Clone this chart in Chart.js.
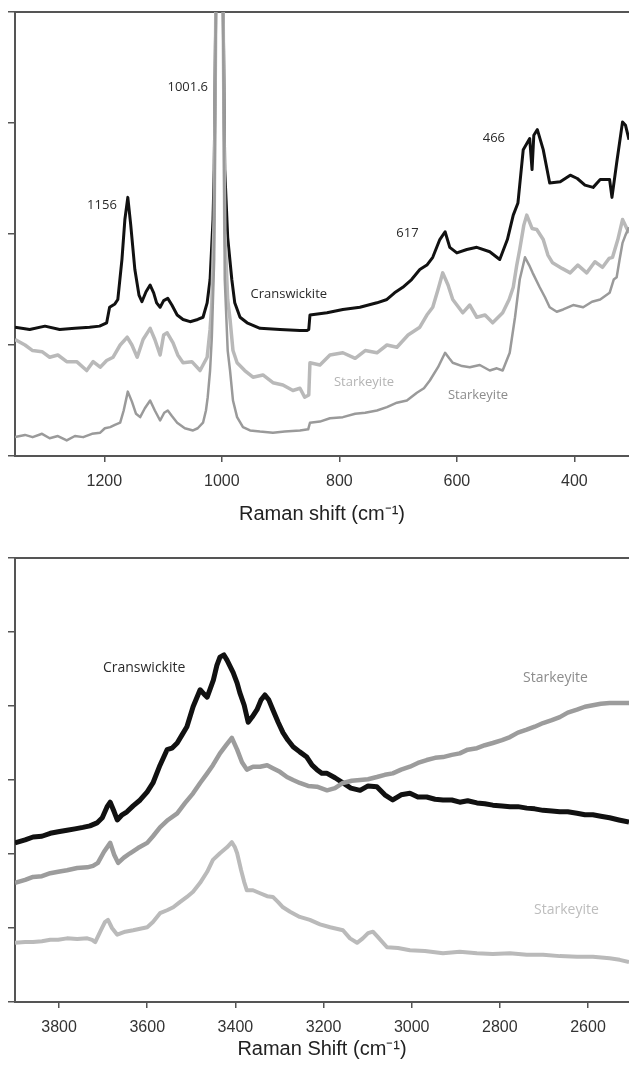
<!DOCTYPE html>
<html lang="en">
<head>
<meta charset="UTF-8">
<title>Raman spectra - cranswickite / starkeyite</title>
<script src="https://cdn.jsdelivr.net/npm/chart.js"></script>
<style>
    body { margin: 0; background: #fff; }
    canvas { display: block; }
</style>
</head>
<body>
<canvas id="lowChart" width="629" height="540"></canvas>
<canvas id="highChart" width="629" height="532"></canvas>
<script>
// ---- data: [Raman shift cm-1, intensity (arb.)] ----
// low wavenumber region (upper panel)
const lowTicks = [1200, 1000, 800, 600, 400];
const lowCran = [[1352,1.16],[1327,1.14],[1301,1.17],[1276,1.14],[1250,1.15],[1225,1.16],[1208,1.17],[1196,1.20],[1191,1.34],[1182,1.37],[1177,1.41],[1170,1.77],[1165,2.13],[1160,2.33],[1155,2.08],[1148,1.68],[1141,1.45],[1136,1.39],[1129,1.48],[1122,1.54],[1116,1.47],[1111,1.38],[1105,1.34],[1099,1.40],[1092,1.42],[1085,1.36],[1076,1.27],[1066,1.23],[1054,1.21],[1041,1.23],[1032,1.25],[1025,1.38],[1020,1.59],[1015,2.13],[1013,2.58],[1010,4.2],[1004,9],[998,4.2],[995,2.58],[990,1.97],[983,1.59],[978,1.38],[969,1.25],[957,1.20],[935,1.15],[901,1.14],[867,1.13],[855,1.13],[852,1.14],[850,1.27],[821,1.29],[794,1.32],[765,1.34],[736,1.38],[719,1.41],[706,1.47],[692,1.52],[677,1.59],[663,1.68],[651,1.72],[641,1.79],[629,1.95],[620,2.02],[612,1.88],[600,1.83],[583,1.86],[566,1.88],[544,1.84],[527,1.77],[514,1.95],[504,2.17],[496,2.28],[487,2.76],[476,2.86],[472,2.58],[469,2.89],[463,2.94],[453,2.76],[442,2.46],[424,2.47],[407,2.53],[395,2.50],[382,2.44],[368,2.42],[356,2.49],[340,2.49],[336,2.33],[328,2.64],[318,3.01],[313,2.98],[307,2.85]];
const lowStarkA = [[1352,1.05],[1335,1.00],[1322,0.95],[1306,0.94],[1293,0.89],[1279,0.91],[1264,0.85],[1247,0.85],[1230,0.77],[1219,0.85],[1207,0.80],[1196,0.86],[1185,0.89],[1173,1.00],[1161,1.07],[1153,1.00],[1144,0.89],[1134,1.05],[1122,1.15],[1114,1.05],[1105,0.91],[1099,1.09],[1093,1.11],[1083,1.02],[1075,0.91],[1066,0.84],[1051,0.85],[1037,0.77],[1025,0.89],[1020,1.14],[1017,1.38],[1013,2.13],[1010,4.2],[1004,8],[998,4.2],[995,2.04],[990,1.41],[986,1.23],[981,0.95],[974,0.84],[961,0.77],[947,0.71],[930,0.73],[913,0.66],[896,0.64],[879,0.59],[867,0.61],[859,0.53],[852,0.55],[850,0.84],[833,0.82],[816,0.91],[794,0.93],[773,0.88],[756,0.95],[736,0.93],[719,1.00],[702,0.98],[683,1.09],[663,1.16],[651,1.27],[641,1.34],[632,1.50],[624,1.65],[615,1.54],[607,1.41],[590,1.29],[578,1.36],[566,1.25],[552,1.27],[539,1.20],[522,1.29],[511,1.41],[504,1.52],[498,1.72],[493,1.86],[486,2.08],[481,2.17],[472,2.05],[464,2.04],[453,1.95],[445,1.81],[437,1.74],[421,1.69],[407,1.65],[394,1.72],[379,1.65],[365,1.75],[352,1.70],[341,1.78],[335,1.79],[326,1.95],[318,2.13],[307,2.01]];
const lowStarkB = [[1352,0.17],[1335,0.19],[1322,0.17],[1306,0.20],[1293,0.16],[1279,0.18],[1264,0.14],[1250,0.18],[1236,0.17],[1221,0.20],[1207,0.21],[1199,0.25],[1190,0.26],[1182,0.28],[1173,0.30],[1167,0.41],[1160,0.58],[1153,0.49],[1146,0.38],[1139,0.35],[1131,0.43],[1122,0.50],[1114,0.41],[1105,0.32],[1098,0.39],[1092,0.41],[1085,0.36],[1076,0.30],[1063,0.25],[1049,0.23],[1041,0.25],[1032,0.30],[1027,0.41],[1024,0.53],[1020,0.77],[1017,1.07],[1013,1.77],[1010,4.2],[1004,8],[998,4.2],[995,1.59],[990,0.95],[986,0.77],[981,0.50],[974,0.35],[964,0.26],[952,0.23],[935,0.22],[913,0.21],[893,0.22],[867,0.23],[853,0.24],[850,0.30],[833,0.31],[816,0.34],[794,0.35],[773,0.38],[756,0.39],[736,0.41],[719,0.44],[702,0.48],[685,0.50],[668,0.57],[656,0.61],[646,0.68],[632,0.80],[620,0.93],[613,0.88],[607,0.84],[591,0.81],[578,0.80],[561,0.82],[544,0.77],[532,0.79],[522,0.77],[510,0.93],[501,1.25],[493,1.59],[484,1.79],[477,1.72],[471,1.65],[459,1.52],[450,1.43],[442,1.34],[430,1.30],[419,1.32],[402,1.36],[385,1.34],[370,1.39],[356,1.41],[340,1.47],[333,1.59],[328,1.61],[323,1.77],[318,1.92],[313,1.99],[307,2.06]];
const lowLabels = [
    { text: '1001.6', x: 1058, y: 3.32, color: '#2a2a2a' },
    { text: '1156', x: 1204, y: 2.26, color: '#2a2a2a' },
    { text: 'Cranswickite', x: 886, y: 1.46, color: '#2a2a2a' },
    { text: '617', x: 684, y: 2.01, color: '#2a2a2a' },
    { text: '466', x: 537, y: 2.86, color: '#2a2a2a' },
    { text: 'Starkeyite', x: 758, y: 0.66, color: '#b4b4b4' },
    { text: 'Starkeyite', x: 564, y: 0.55, color: '#8c8c8c' }
];

// OH stretching region (lower panel)
const highTicks = [3800, 3600, 3400, 3200, 3000, 2800, 2600];
const highCran = [[3900,2.15],[3877,2.19],[3859,2.23],[3839,2.24],[3820,2.28],[3802,2.30],[3782,2.32],[3764,2.34],[3746,2.36],[3730,2.38],[3714,2.42],[3702,2.49],[3691,2.64],[3684,2.70],[3675,2.57],[3668,2.46],[3657,2.53],[3646,2.57],[3632,2.65],[3616,2.73],[3600,2.84],[3587,2.96],[3571,3.20],[3555,3.41],[3544,3.43],[3532,3.50],[3521,3.61],[3510,3.72],[3496,3.99],[3480,4.22],[3471,4.16],[3464,4.12],[3450,4.35],[3442,4.55],[3435,4.66],[3426,4.69],[3419,4.62],[3405,4.45],[3396,4.31],[3390,4.18],[3380,4.01],[3371,3.78],[3362,3.85],[3351,3.95],[3342,4.08],[3333,4.15],[3324,4.08],[3315,3.95],[3303,3.78],[3292,3.64],[3281,3.54],[3269,3.45],[3254,3.38],[3238,3.31],[3226,3.20],[3215,3.14],[3204,3.09],[3192,3.09],[3174,3.03],[3156,2.96],[3138,2.89],[3117,2.86],[3099,2.92],[3079,2.91],[3061,2.80],[3043,2.73],[3024,2.80],[3004,2.82],[2986,2.77],[2966,2.77],[2947,2.74],[2929,2.73],[2909,2.73],[2891,2.70],[2873,2.72],[2852,2.69],[2834,2.68],[2816,2.66],[2795,2.65],[2777,2.64],[2759,2.64],[2739,2.62],[2721,2.61],[2702,2.59],[2682,2.58],[2664,2.57],[2646,2.57],[2625,2.55],[2607,2.53],[2589,2.53],[2571,2.51],[2551,2.49],[2530,2.46],[2507,2.43]];
const highStarkA = [[3900,1.61],[3877,1.65],[3859,1.69],[3839,1.70],[3820,1.74],[3802,1.76],[3782,1.78],[3759,1.81],[3736,1.82],[3723,1.84],[3712,1.88],[3698,2.03],[3684,2.15],[3675,1.99],[3666,1.88],[3653,1.95],[3639,2.01],[3621,2.08],[3600,2.15],[3587,2.24],[3571,2.36],[3553,2.46],[3532,2.55],[3514,2.69],[3496,2.82],[3480,2.96],[3464,3.09],[3451,3.20],[3435,3.36],[3421,3.47],[3408,3.57],[3396,3.41],[3385,3.24],[3374,3.14],[3360,3.18],[3344,3.18],[3328,3.20],[3315,3.16],[3299,3.11],[3283,3.04],[3269,3.00],[3254,2.96],[3235,2.92],[3215,2.91],[3192,2.86],[3174,2.89],[3156,2.96],[3136,2.99],[3117,3.00],[3099,3.01],[3079,3.04],[3061,3.07],[3043,3.09],[3024,3.14],[3004,3.18],[2986,3.23],[2966,3.27],[2947,3.30],[2929,3.31],[2909,3.34],[2891,3.36],[2873,3.41],[2852,3.43],[2834,3.47],[2816,3.50],[2795,3.54],[2777,3.58],[2759,3.64],[2739,3.68],[2721,3.72],[2702,3.77],[2682,3.81],[2664,3.85],[2646,3.91],[2625,3.95],[2607,3.99],[2589,4.01],[2571,4.03],[2551,4.04],[2530,4.04],[2507,4.04]];
const highStarkB = [[3900,0.80],[3877,0.81],[3859,0.81],[3839,0.82],[3820,0.84],[3802,0.84],[3782,0.86],[3759,0.85],[3736,0.86],[3725,0.84],[3718,0.81],[3705,0.97],[3696,1.08],[3689,1.11],[3680,1.00],[3668,0.91],[3650,0.95],[3632,0.97],[3616,0.99],[3600,1.01],[3587,1.08],[3571,1.20],[3555,1.24],[3541,1.28],[3526,1.35],[3510,1.42],[3496,1.49],[3480,1.61],[3464,1.76],[3451,1.92],[3435,2.01],[3419,2.09],[3408,2.16],[3401,2.09],[3396,2.01],[3387,1.78],[3380,1.62],[3374,1.51],[3360,1.51],[3344,1.47],[3328,1.43],[3315,1.42],[3303,1.35],[3292,1.28],[3276,1.22],[3254,1.15],[3231,1.11],[3208,1.05],[3185,1.01],[3156,0.97],[3140,0.86],[3124,0.80],[3111,0.86],[3099,0.93],[3088,0.95],[3077,0.88],[3056,0.74],[3031,0.73],[3004,0.70],[2970,0.69],[2929,0.66],[2891,0.68],[2852,0.66],[2816,0.65],[2777,0.66],[2739,0.64],[2702,0.64],[2664,0.62],[2625,0.61],[2589,0.61],[2551,0.59],[2528,0.57],[2507,0.54]];
const highLabels = [
    { text: 'Cranswickite', x: 3607, y: 4.51, color: '#2a2a2a' },
    { text: 'Starkeyite', x: 2674, y: 4.38, color: '#8c8c8c' },
    { text: 'Starkeyite', x: 2649, y: 1.24, color: '#bdbdbd' }
];

const AXIS = '#555';

// text labels placed in data coordinates
const peakLabels = {
    id: 'peakLabels',
    afterDatasetsDraw: function (chart, args, opts) {
        const ctx = chart.ctx;
        const xs = chart.scales.x, ys = chart.scales.y;
        ctx.save();
        ctx.textAlign = 'center';
        ctx.textBaseline = 'middle';
        ctx.font = opts.font;
        opts.items.forEach(function (t) {
            ctx.fillStyle = t.color;
            ctx.fillText(t.text, xs.getPixelForValue(t.x), ys.getPixelForValue(t.y));
        });
        ctx.restore();
    }
};

function toPoints(arr) {
    return arr.map(function (p) { return { x: p[0], y: p[1] }; });
}

function line(data, color, width) {
    return {
        data: toPoints(data),
        borderColor: color,
        borderWidth: width,
        borderJoinStyle: 'round',
        pointRadius: 0,
        tension: 0,
        clip: 0
    };
}

function makeChart(id, o) {
    return new Chart(document.getElementById(id), {
        type: 'line',
        data: { datasets: o.datasets },
        plugins: [peakLabels],
        options: {
            responsive: false,
            animation: false,
            events: [],
            layout: { padding: { top: o.top, left: 0, right: 0, bottom: 0 } },
            plugins: {
                legend: { display: false },
                tooltip: { enabled: false },
                peakLabels: { items: o.labels, font: o.labelFont }
            },
            scales: {
                x: {
                    type: 'linear',
                    reverse: true,
                    min: o.xMin,
                    max: o.xMax,
                    afterBuildTicks: function (s) {
                        s.ticks = o.ticks.map(function (v) { return { value: v }; });
                    },
                    afterFit: function (s) { s.height = o.xHeight; },
                    border: { color: AXIS, width: 2 },
                    grid: { drawOnChartArea: false, drawTicks: true, tickLength: 6, color: AXIS, lineWidth: 1.5 },
                    ticks: {
                        maxRotation: 0,
                        autoSkip: false,
                        padding: 10,
                        color: '#333',
                        font: { family: '"Liberation Sans", Arial, sans-serif', size: 16 },
                        callback: function (v) { return String(v); }
                    },
                    title: {
                        display: true,
                        text: o.title,
                        color: '#222',
                        font: { family: '"Liberation Sans", Arial, sans-serif', size: 20 },
                        padding: { top: 0, bottom: o.titlePad }
                    }
                },
                xTop: {
                    type: 'linear',
                    position: 'top',
                    reverse: true,
                    min: o.xMin,
                    max: o.xMax,
                    afterFit: function (s) { s.height = 0; },
                    border: { display: true, color: AXIS, width: 2 },
                    grid: { display: false },
                    ticks: { display: false }
                },
                y: {
                    type: 'linear',
                    min: 0,
                    max: o.yMax,
                    afterFit: function (s) { s.width = 15; },
                    border: { color: AXIS, width: 2 },
                    grid: { drawOnChartArea: false, drawTicks: true, tickLength: 7, color: AXIS, lineWidth: 1.5 },
                    ticks: { display: false, stepSize: 1 }
                }
            }
        }
    });
}

makeChart('lowChart', {
    datasets: [
        line(lowStarkB, '#9a9a9a', 2.5),
        line(lowStarkA, '#b9b9b9', 3.5),
        line(lowCran, '#111', 3)
    ],
    labels: lowLabels,
    labelFont: '13px "Open Sans", "Noto Sans", sans-serif',
    top: 12,
    xMin: 307,
    xMax: 1352,
    ticks: lowTicks,
    xHeight: 84,
    yMax: 4,
    title: 'Raman shift (cm\u207B\u00B9)',
    titlePad: 14
});

makeChart('highChart', {
    datasets: [
        line(highStarkB, '#bababa', 4),
        line(highStarkA, '#9c9c9c', 4.5),
        line(highCran, '#111', 5)
    ],
    labels: highLabels,
    labelFont: '14px "Open Sans", "Noto Sans", sans-serif',
    top: 18,
    xMin: 2507,
    xMax: 3900,
    ticks: highTicks,
    xHeight: 70,
    yMax: 6,
    title: 'Raman Shift (cm\u207B\u00B9)',
    titlePad: 11
});
</script>
</body>
</html>
